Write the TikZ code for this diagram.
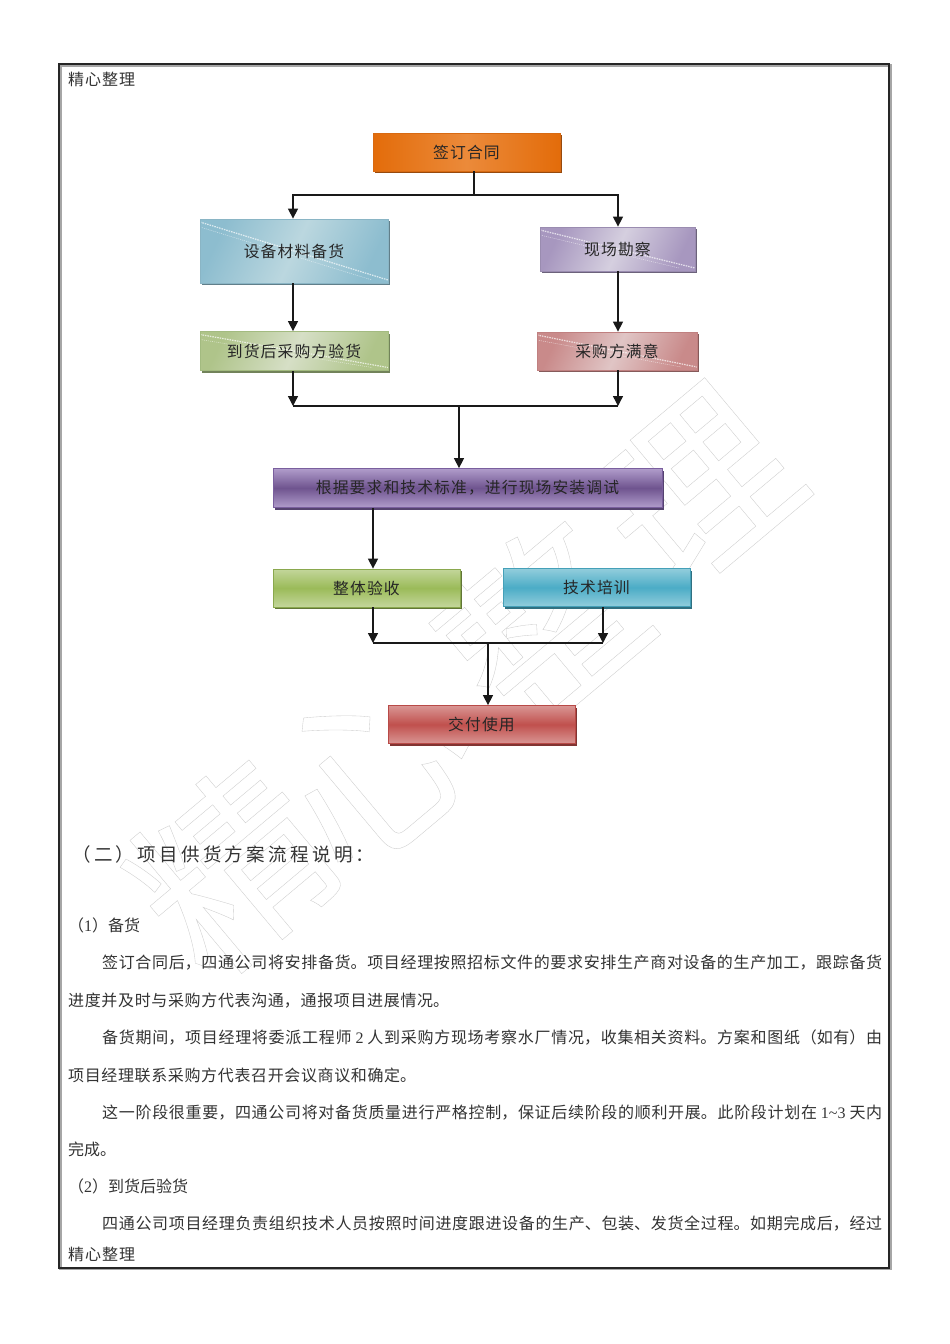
\documentclass[tikz,border=0pt]{standalone}
\usepackage{fontspec}
\usetikzlibrary{arrows.meta,shadows}
\setmainfont{Noto Sans CJK SC}
\newfontfamily\lblfont[LetterSpace=7]{Noto Sans CJK SC}
\newfontfamily\hdfont[LetterSpace=18]{Noto Sans CJK SC}
\newfontfamily\serifdigits{Liberation Serif}
\XeTeXlinebreaklocale "zh"
\XeTeXlinebreakskip=0pt plus 4pt
\newcommand\jl[2]{\parbox{#1}{\parfillskip=0pt\noindent #2}}
\newcommand\dg[1]{{\serifdigits #1}}
\newcommand\lb[1]{\raisebox{-1.2pt}{#1}}
\newcommand\wmk[1]{\special{pdf:code q 1 Tr 0.35 w 0.8 0.8 0.8 RG}#1\special{pdf:code Q}}
\definecolor{inkc}{gray}{0.2}
\definecolor{oD}{HTML}{E36C0A}\definecolor{oL}{HTML}{EB8A3A}\definecolor{oE}{HTML}{D86A12}
\definecolor{bD}{HTML}{8DBDCF}\definecolor{bL}{HTML}{BBD7DF}\definecolor{bE}{HTML}{8AB5C5}
\definecolor{vD}{HTML}{A797BF}\definecolor{vL}{HTML}{D5CFDF}\definecolor{vE}{HTML}{9A8CB0}
\definecolor{gD}{HTML}{AFC48A}\definecolor{gL}{HTML}{D6DFC6}\definecolor{gE}{HTML}{A3BB80}
\definecolor{pD}{HTML}{C98A8A}\definecolor{pL}{HTML}{E0C5C5}\definecolor{pE}{HTML}{C08080}
\definecolor{uD}{HTML}{6F548F}\definecolor{uL}{HTML}{B09CCB}\definecolor{uE}{HTML}{7A5F9E}
\definecolor{nD}{HTML}{9BBB59}\definecolor{nL}{HTML}{C3D69B}\definecolor{nE}{HTML}{8AA84E}
\definecolor{tD}{HTML}{4BACC6}\definecolor{tL}{HTML}{92CDDC}\definecolor{tE}{HTML}{45A0B8}
\definecolor{rD}{HTML}{C0504D}\definecolor{rL}{HTML}{D99694}\definecolor{rE}{HTML}{B84A47}
\tikzset{
  bx/.style={draw=#1,line width=0.8pt,inner sep=0pt,font=\lblfont\fontsize{15.8}{18}\selectfont,text=black!85,
    general shadow={fill=#1!70!black,shadow xshift=1.5pt,shadow yshift=-2pt}},
  band/.style n args={2}{top color=#1,bottom color=#1,middle color=#2},
  hband/.style n args={2}{left color=#2,right color=#2,middle color=#1},
  diag/.style n args={2}{shading=axis,left color=#2,right color=#2,middle color=#1,shading angle=65},
  streak/.style={path picture={
    \draw[white,line width=1.2pt,dash pattern=on 1.5pt off 1pt,opacity=.7]
      ([yshift=-3pt]path picture bounding box.north west) -- ([yshift=3pt]path picture bounding box.south east);
    \draw[white,line width=0.5pt,dash pattern=on 1pt off 1pt,opacity=.6]
      ([yshift=-8pt]path picture bounding box.north west) -- ([xshift=-16pt,yshift=3pt]path picture bounding box.south east);
    }},
  flow/.style={-{Triangle[width=10pt,length=10pt]},line width=1.4pt,draw=black!90},
  seg/.style={line width=1.4pt,draw=black!90},
  tx/.style={anchor=west,inner sep=0pt,text=inkc,font=\fontsize{16}{18}\selectfont},
  hd/.style={anchor=west,inner sep=0pt,text=inkc,font=\hdfont\fontsize{18.5}{22}\selectfont},
  wm/.style={inner sep=0pt,font=\fontsize{190}{200}\selectfont},
}
\begin{document}
\begin{tikzpicture}[x=1pt,y=-1pt]
\useasboundingbox (0,0) rectangle (950,1344);
\fill[white] (0,0) rectangle (950,1344);
% watermark
\node[wm,rotate=40] (w1) at (232,868) {\wmk{精}};
\node[wm,rotate=40] (w2) at (372,768) {\wmk{心}};
\node[wm,rotate=40] (w3) at (540,625) {\wmk{整}};
\node[wm,rotate=40] (w4) at (695,490) {\wmk{理}};
% frame
\draw[gray!70,line width=2.2pt] (60.5,65.5) rectangle (891,1269);
\draw[black!85,line width=2pt] (58.8,63.5) rectangle (889.3,1267.5);
% boxes
\node[bx=oE,hband={oL}{oD},minimum width=187pt,minimum height=38pt] (qd) at (466.5,152) {\lb{签订合同}};
\node[bx=bE,diag={bL}{bD},streak,minimum width=188pt,minimum height=64pt] (sb) at (294,251) {\lb{设备材料备货}};
\node[bx=vE,diag={vL}{vD},streak,minimum width=155pt,minimum height=44pt] (xc) at (617.5,249) {\lb{现场勘察}};
\node[bx=gE,diag={gL}{gD},streak,minimum width=188pt,minimum height=39pt] (dh) at (294,351) {\lb{到货后采购方验货}};
\node[bx=pE,diag={pL}{pD},streak,minimum width=160pt,minimum height=38pt] (cg) at (617,351) {\lb{采购方满意}};
\node[bx=uE,band={uL}{uD},minimum width=389pt,minimum height=39pt] (az) at (467.5,488) {\lb{根据要求和技术标准，进行现场安装调试}};
\node[bx=nE,band={nL}{nD},minimum width=187pt,minimum height=38pt] (zt) at (366.5,588) {\lb{整体验收}};
\node[bx=tE,band={tL}{tD},minimum width=187pt,minimum height=38pt] (px) at (596.5,587.5) {\lb{技术培训}};
\node[bx=rE,band={rL}{rD},minimum width=187pt,minimum height=38pt] (jf) at (481.5,724.5) {\lb{交付使用}};
% junctions
\coordinate (j1) at (474,195);
\coordinate (j1l) at (293,195);
\coordinate (j1r) at (618,195);
\coordinate (j2) at (459,406);
\coordinate (j2l) at (293,406);
\coordinate (j2r) at (618,406);
\coordinate (az1) at (373,507);
\coordinate (j3) at (488,643);
\coordinate (j3l) at (373,643);
\coordinate (j3r) at (603,643);
% connectors
\draw[seg] (j1 |- qd.south) -- (j1);
\draw[flow] (j1) -- (j1l) -- (j1l |- sb.north);
\draw[flow] (j1) -- (j1r) -- (j1r |- xc.north);
\draw[flow] (j1l |- sb.south) -- (j1l |- dh.north);
\draw[flow] (j1r |- xc.south) -- (j1r |- cg.north);
\draw[flow] (j2l |- dh.south) -- (j2l);
\draw[flow] (j2r |- cg.south) -- (j2r);
\draw[seg] (j2l) -- (j2r);
\draw[flow] (j2) -- (j2 |- az.north);
\draw[flow] (az1 |- az.south) -- (az1 |- zt.north);
\draw[flow] (j3l |- zt.south) -- (j3l);
\draw[flow] (j3r |- px.south) -- (j3r);
\draw[seg] (j3l) -- (j3r);
\draw[flow] (j3) -- (j3 |- jf.north);
% text
\node[tx] (h1) at (68,79.5) {\jl{67pt}{精心整理}};
\node[hd] (h2) at (72,854.5) {（二）项目供货方案流程说明：};
\node[tx] (l0) at (68,925.5) {（\dg{1}）备货};
\node[tx] (l1) at (102,962.5) {\jl{780pt}{签订合同后，四通公司将安排备货。项目经理按照招标文件的要求安排生产商对设备的生产加工，跟踪备货}};
\node[tx] (l2) at (68,1000.5) {\jl{381pt}{进度并及时与采购方代表沟通，通报项目进展情况。}};
\node[tx] (l3) at (102,1037.5) {\jl{780pt}{备货期间，项目经理将委派工程师 \dg{2} 人到采购方现场考察水厂情况，收集相关资料。方案和图纸（如有）由}};
\node[tx] (l4) at (68,1075.5) {\jl{348pt}{项目经理联系采购方代表召开会议商议和确定。}};
\node[tx] (l5) at (102,1112.5) {\jl{780pt}{这一阶段很重要，四通公司将对备货质量进行严格控制，保证后续阶段的顺利开展。此阶段计划在 \dg{1\textasciitilde3} 天内}};
\node[tx] (l6) at (68,1149.5) {完成。};
\node[tx] (l7) at (68,1186.5) {（\dg{2}）到货后验货};
\node[tx] (l8) at (102,1223.5) {\jl{780pt}{四通公司项目经理负责组织技术人员按照时间进度跟进设备的生产、包装、发货全过程。如期完成后，经过}};
\node[tx] (h3) at (68,1254.5) {\jl{67pt}{精心整理}};
\end{tikzpicture}
\end{document}
